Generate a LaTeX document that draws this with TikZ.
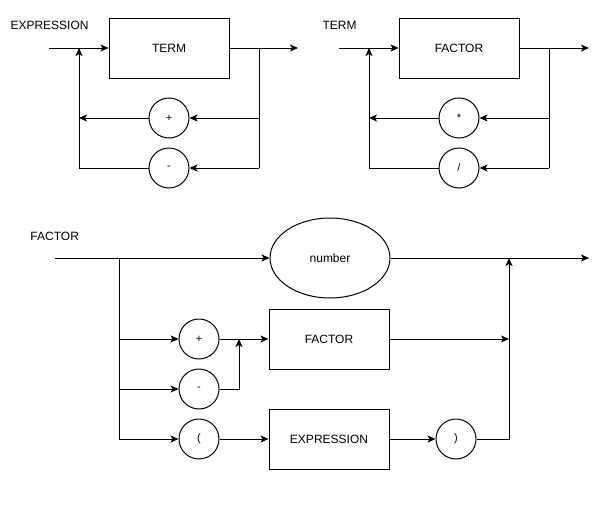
\documentclass[tikz,border=0pt]{standalone}
\usepackage{fontspec}
\setmainfont{Liberation Sans}
\usetikzlibrary{arrows.meta,shapes.geometric}
\begin{document}
\begin{tikzpicture}[x=1pt,y=-1pt,
  line width=1pt,
  font=\fontsize{12}{14}\selectfont,
  arr/.style={-{Stealth[length=8pt,width=7pt,inset=2pt]}},
  ntbox/.style={draw,rectangle,minimum width=120pt,minimum height=60pt,inner sep=0pt},
  tcirc/.style={draw,circle,minimum size=40pt,inner sep=0pt,font=\fontsize{11}{13}\selectfont},
  tell/.style={draw,ellipse,minimum width=120pt,minimum height=80pt,inner sep=0pt},
  title/.style={anchor=west,inner sep=0pt}]
\useasboundingbox (0,0) rectangle (611,530);

% ---------- EXPRESSION ----------
\node[title] (tE) at (10,25) {EXPRESSION};
\node[ntbox] (term1) at (169,48) {TERM};
\node[tcirc] (plus1) at (169,118) {+};
\node[tcirc] (minus1) at (169,168) {-};
\coordinate (inE) at (49,48);
\coordinate (jLE) at (79,48);
\coordinate (jRE) at (259,48);
\coordinate (outE) at (298,48);
\coordinate (rE1) at (259,118);
\coordinate (rE2) at (259,168);
\coordinate (lE1) at (79,118);
\coordinate (lE2) at (79,168);
\draw[arr] (inE) -- (term1);
\draw[arr] (term1) -- (outE);
\draw (jRE) -- (rE2);
\draw[arr] (rE1) -- (plus1);
\draw[arr] (rE2) -- (minus1);
\draw[arr] (plus1) -- (lE1);
\draw[arr] (minus1) -- (lE2) -- (jLE);

% ---------- TERM ----------
\node[title] (tT) at (322,25) {TERM};
\node[ntbox] (fac1) at (459,48) {FACTOR};
\node[tcirc] (mul) at (459,118) {*};
\node[tcirc] (dvd) at (459,168) {/};
\coordinate (inT) at (339,48);
\coordinate (jLT) at (369,48);
\coordinate (jRT) at (549,48);
\coordinate (outT) at (589,48);
\coordinate (rT1) at (549,118);
\coordinate (rT2) at (549,168);
\coordinate (lT1) at (369,118);
\coordinate (lT2) at (369,168);
\draw[arr] (inT) -- (fac1);
\draw[arr] (fac1) -- (outT);
\draw (jRT) -- (rT2);
\draw[arr] (rT1) -- (mul);
\draw[arr] (rT2) -- (dvd);
\draw[arr] (mul) -- (lT1);
\draw[arr] (dvd) -- (lT2) -- (jLT);

% ---------- FACTOR ----------
\node[title] (tF) at (30,236) {FACTOR};
\node[tell] (num) at (330,258) {number};
\node[tcirc] (plus3) at (199,339) {+};
\node[tcirc] (minus3) at (199,389) {-};
\node[tcirc] (lpar) at (199,439) {(};
\node[ntbox] (fac2) at (329,339) {FACTOR};
\node[ntbox] (expr) at (329,439) {EXPRESSION};
\node[tcirc] (rpar) at (456,439) {)};
\coordinate (inF) at (55,258);
\coordinate (sF) at (119,258);
\coordinate (sF1) at (119,339);
\coordinate (sF2) at (119,389);
\coordinate (sF3) at (119,439);
\coordinate (mJ) at (239,339);
\coordinate (jOut) at (509,258);
\coordinate (jMid) at (509,339);
\coordinate (outF) at (589,258);
\draw[arr] (inF) -- (num);
\draw[arr] (num) -- (outF);
\draw (sF) -- (sF3);
\draw[arr] (sF1) -- (plus3);
\draw[arr] (sF2) -- (minus3);
\draw[arr] (sF3) -- (lpar);
\draw[arr] (plus3) -- (fac2);
\draw[arr] (minus3) -| (mJ);
\draw[arr] (fac2) -- (jMid);
\draw[arr] (lpar) -- (expr);
\draw[arr] (expr) -- (rpar);
\draw[arr] (rpar) -| (jOut);
\end{tikzpicture}
\end{document}
